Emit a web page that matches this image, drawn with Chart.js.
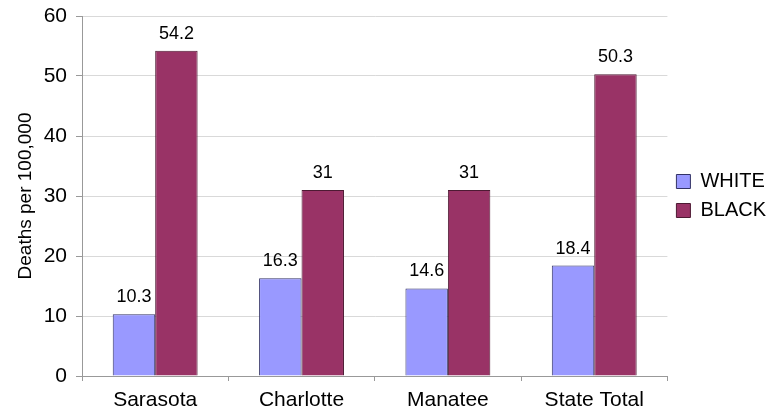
<!DOCTYPE html>
<html>
<head>
<meta charset="utf-8">
<script src="https://cdn.jsdelivr.net/npm/chart.js@4"></script>
<style>
  html, body { margin: 0; padding: 0; background: #ffffff; }
  #wrap { width: 772px; height: 418px; }
</style>
</head>
<body>
<div id="wrap"><canvas id="deathsChart"></canvas></div>
<script>
const counties = ['Sarasota', 'Charlotte', 'Manatee', 'State Total'];
const whiteRates = [10.3, 16.3, 14.6, 18.4];
const blackRates = [54.2, 31, 31, 50.3];
const yTicks = [0, 10, 20, 30, 40, 50, 60];

// draws the value above each bar
const barValues = {
  id: 'barValues',
  afterDatasetsDraw(chart) {
    const ctx = chart.ctx;
    ctx.save();
    ctx.font = '18px "Liberation Sans", Arial, sans-serif';
    ctx.fillStyle = '#000';
    ctx.textAlign = 'center';
    ctx.textBaseline = 'alphabetic';
    chart.data.datasets.forEach((ds, i) => {
      chart.getDatasetMeta(i).data.forEach((bar, j) => {
        ctx.fillText(String(ds.data[j]), bar.x, bar.y - 12);
      });
    });
    ctx.restore();
  }
};

// keep the legend centred on the plot area, like the original
const legendOnPlot = {
  id: 'legendOnPlot',
  afterLayout(chart) {
    const h = chart.legend.bottom - chart.legend.top;
    const mid = (chart.chartArea.top + chart.chartArea.bottom) / 2;
    chart.legend.top = mid - h / 2;
    chart.legend.bottom = mid + h / 2;
  }
};

Chart.defaults.font.family = '"Liberation Sans", Arial, sans-serif';
Chart.defaults.color = '#000';

new Chart(document.getElementById('deathsChart'), {
  type: 'bar',
  data: {
    labels: counties,
    datasets: [{
      label: 'WHITE',
      data: whiteRates,
      backgroundColor: '#9999ff',
      borderColor: '#333366',
      borderWidth: 1
    }, {
      label: 'BLACK',
      data: blackRates,
      backgroundColor: '#993366',
      borderColor: '#4d1a33',
      borderWidth: 1
    }]
  },
  options: {
    responsive: true,
    maintainAspectRatio: false,
    animation: false,
    layout: { autoPadding: false, padding: { top: 16, right: -4, bottom: 0, left: 0 } },
    datasets: { bar: { categoryPercentage: 0.58, barPercentage: 1.0 } },
    plugins: {
      legend: {
        position: 'right',
        labels: {
          boxWidth: 14,
          boxHeight: 14,
          padding: 9,
          font: { size: 20 }
        }
      },
      tooltip: { enabled: false }
    },
    scales: {
      x: {
        grid: {
          offset: true,
          drawOnChartArea: false,
          color: '#999',
          tickLength: 5
        },
        border: { color: '#999' },
        afterFit: (axis) => { axis.height = 42; },
        ticks: { font: { size: 21 }, padding: 7 }
      },
      y: {
        min: 0,
        max: 60,
        afterBuildTicks: (axis) => { axis.ticks = yTicks.map(v => ({ value: v })); },
        afterFit: (axis) => {
          axis.width = 82;
          axis.paddingTop = 0;
          axis.paddingBottom = 0;
        },
        grid: { color: '#d9d9d9', tickLength: 6, tickColor: '#999' },
        border: { color: '#999' },
        ticks: { font: { size: 21 }, padding: 9 },
        title: {
          display: true,
          text: 'Deaths per 100,000',
          font: { size: 19 },
          padding: { top: 14, bottom: 0 }
        }
      }
    }
  },
  plugins: [barValues, legendOnPlot]
});
</script>
</body>
</html>
